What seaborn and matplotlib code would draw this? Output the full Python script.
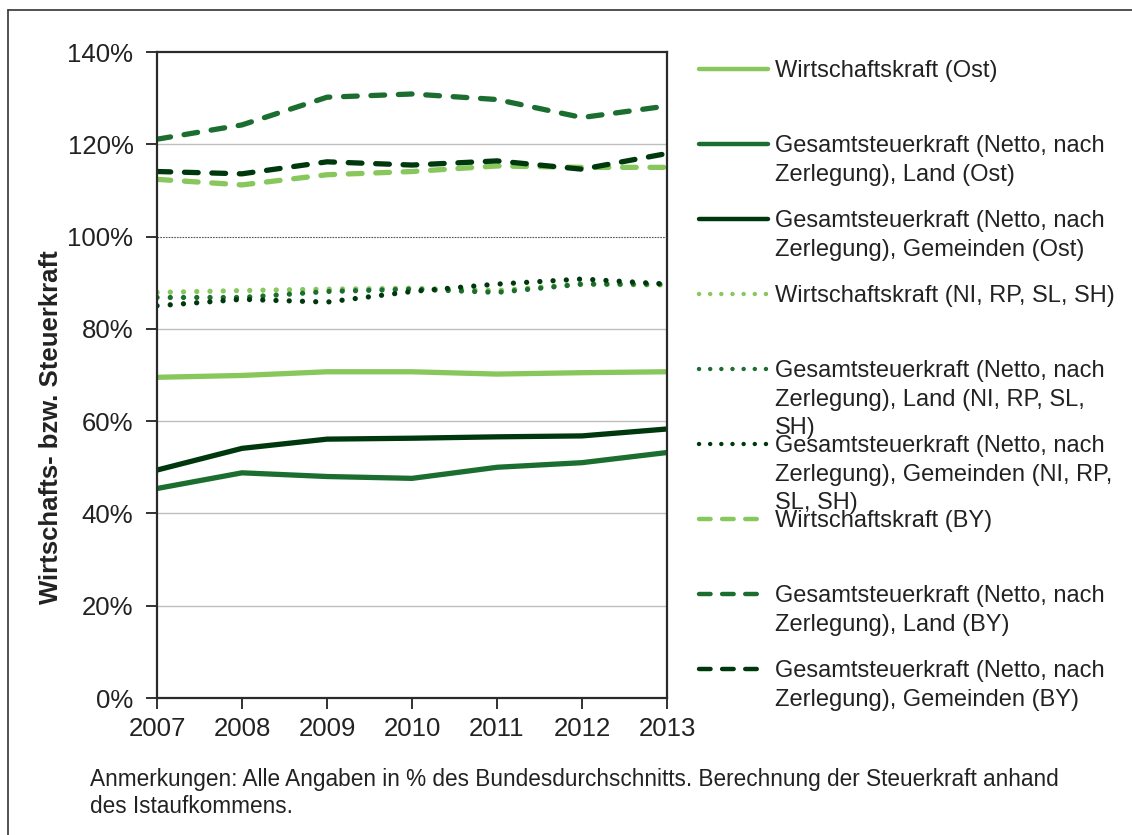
import pandas as pd
import matplotlib.pyplot as plt
import seaborn as sns
from matplotlib.lines import Line2D

# data (% of federal average)
years = [2007, 2008, 2009, 2010, 2011, 2012, 2013]

wk_ost = [69.5, 69.9, 70.7, 70.7, 70.2, 70.5, 70.7]
land_ost = [45.4, 48.8, 48.0, 47.6, 50.0, 51.0, 53.2]
gem_ost = [49.4, 54.1, 56.1, 56.3, 56.6, 56.8, 58.3]

wk_ni = [87.9, 88.3, 88.6, 88.8, 88.3, 89.7, 89.5]
land_ni = [86.8, 86.8, 88.1, 88.6, 87.9, 89.7, 89.7]
gem_ni = [85.0, 86.4, 85.8, 88.1, 89.7, 90.8, 89.7]

wk_by = [112.4, 111.2, 113.4, 114.1, 115.3, 115.0, 115.0]
land_by = [121.1, 124.2, 130.2, 130.9, 129.7, 125.8, 128.3]
gem_by = [114.1, 113.6, 116.2, 115.5, 116.4, 114.6, 118.0]

labels = [
    "Wirtschaftskraft (Ost)",
    "Gesamtsteuerkraft (Netto, nach\nZerlegung), Land (Ost)",
    "Gesamtsteuerkraft (Netto, nach\nZerlegung), Gemeinden (Ost)",
    "Wirtschaftskraft (NI, RP, SL, SH)",
    "Gesamtsteuerkraft (Netto, nach\nZerlegung), Land (NI, RP, SL,\nSH)",
    "Gesamtsteuerkraft (Netto, nach\nZerlegung), Gemeinden (NI, RP,\nSL, SH)",
    "Wirtschaftskraft (BY)",
    "Gesamtsteuerkraft (Netto, nach\nZerlegung), Land (BY)",
    "Gesamtsteuerkraft (Netto, nach\nZerlegung), Gemeinden (BY)",
]
values = [wk_ost, land_ost, gem_ost, wk_ni, land_ni, gem_ni, wk_by, land_by, gem_by]

light = "#88C75C"
mid = "#1C6E30"
dark = "#00380E"
colors = [light, mid, dark] * 3
solid = "-"
dotted = (0, (0.01, 2.5))
dashed = (0, (2.6, 2.6))
styles = [solid] * 3 + [dotted] * 3 + [dashed] * 3

sns.set_theme(style="white")
plt.rcParams["font.family"] = ["Liberation Sans", "DejaVu Sans"]

fig = plt.figure(figsize=(11.32, 8.35), dpi=100)
ax = fig.add_axes([157 / 1132, 1 - 698 / 835, 510 / 1132, 646 / 835])

for lab, vals, col, ls in zip(labels, values, colors, styles):
    df = pd.DataFrame({"Jahr": years, "Wert": vals})
    sns.lineplot(data=df, x="Jahr", y="Wert", ax=ax, color=col, linewidth=3.8,
                 linestyle=ls, legend=False)

for line in ax.get_lines():
    line.set_dash_capstyle("round")
    line.set_solid_capstyle("round")

ax.set_xlim(2007, 2013)
ax.set_ylim(0, 140)
ax.set_xticks(years)
ax.set_yticks(range(0, 141, 20))
ax.set_yticklabels([f"{v}%" for v in range(0, 141, 20)])
ax.tick_params(axis="both", labelsize=18.5, colors="#222222", length=8, width=1.3,
               direction="out")
ax.tick_params(axis="y", pad=9, left=True)
ax.tick_params(axis="x", pad=6, bottom=True)

# gridlines: light grey, 100% mark thin dotted dark
for v in [20, 40, 60, 80, 120]:
    ax.axhline(v, color="#BFBFBF", lw=1, zorder=0)
ax.axhline(100, color="#555555", lw=0.8, ls=(0, (1.5, 1)), zorder=0)

for s in ax.spines.values():
    s.set_color("#2a2a2a")
    s.set_linewidth(1.6)

ax.set_xlabel("")
ax.set_ylabel("Wirtschafts- bzw. Steuerkraft", fontsize=18.5, fontweight="bold",
              color="#222222")
ax.yaxis.set_label_coords(-0.185, 0.42)

# legend drawn entry by entry so the handle sits on the first text line
leg_ax = fig.add_axes([0, 0, 1, 1], facecolor="none")
leg_ax.set_xlim(0, 1132)
leg_ax.set_ylim(835, 0)
leg_ax.axis("off")
for i, (lab, col, ls) in enumerate(zip(labels, colors, styles)):
    y = 69 + 75 * i
    leg_ax.add_line(Line2D([699, 768], [y, y], color=col, lw=3.2, linestyle=ls,
                           dash_capstyle="round", solid_capstyle="round"))
    leg_ax.text(775, y - 9, lab, fontsize=17, color="#222222", va="top",
                ha="left", linespacing=1.39)

# footnote
leg_ax.text(90, 768, "Anmerkungen: Alle Angaben in % des Bundesdurchschnitts. "
            "Berechnung der Steuerkraft anhand\ndes Istaufkommens.",
            fontsize=16.3, color="#222222", va="top", ha="left",
            linespacing=1.2)

# outer frame of the figure box
leg_ax.add_line(Line2D([8, 8], [10, 835], color="#333333", lw=1.2))
leg_ax.add_line(Line2D([8, 1132], [10, 10], color="#333333", lw=1.2))

fig.savefig("out.png", dpi=100)
